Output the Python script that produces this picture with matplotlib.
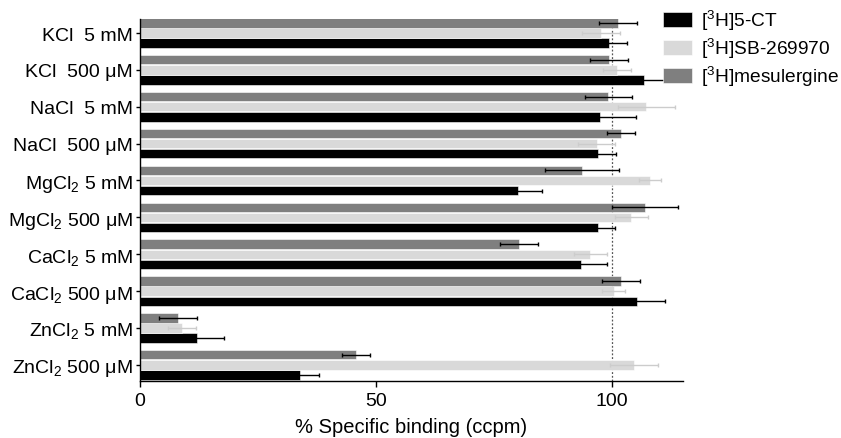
import matplotlib
matplotlib.use("Agg")
import matplotlib.pyplot as plt
import numpy as np

plt.rcParams['font.family'] = ['Liberation Sans', 'DejaVu Sans']
plt.rcParams['mathtext.fontset'] = 'custom'
plt.rcParams['mathtext.rm'] = 'Liberation Sans'
plt.rcParams['mathtext.it'] = 'Liberation Sans:italic'

categories = ["KCl  5 mM", "KCl  500 \u03bcM", "NaCl  5 mM", "NaCl  500 \u03bcM",
              "MgCl$_2$ 5 mM", "MgCl$_2$ 500 \u03bcM", "CaCl$_2$ 5 mM", "CaCl$_2$ 500 \u03bcM",
              "ZnCl$_2$ 5 mM", "ZnCl$_2$ 500 \u03bcM"]
series_names = ["[$^3$H]5-CT", "[$^3$H]SB-269970", "[$^3$H]mesulergine"]

ct_vals = [99.4, 106.8, 97.4, 97.1, 80.1, 97.0, 93.5, 105.3, 12.0, 33.9]
ct_err = [3.7, 7.8, 7.6, 3.7, 5.0, 3.7, 5.3, 5.8, 5.7, 4.0]
sb_vals = [97.7, 101.0, 107.2, 96.7, 108.0, 104.0, 95.4, 100.3, 8.9, 104.6]
sb_err = [4.0, 3.0, 6.0, 4.0, 2.3, 3.5, 3.4, 2.5, 3.0, 5.0]
mes_vals = [101.2, 99.4, 99.2, 101.9, 93.6, 107.0, 80.3, 101.8, 8.1, 45.7]
mes_err = [4.0, 4.0, 5.0, 3.0, 7.8, 7.0, 4.0, 4.0, 4.0, 3.0]

x_ticks = [0, 50, 100]

fig = plt.figure(figsize=(8.41, 4.39), dpi=100)
ax = fig.add_axes([140/841, 1-381.7/439, (683-140)/841, (381.7-20)/439])

y = np.arange(len(categories))
h = 0.255
off = 0.275
colors = ['#000000', '#d9d9d9', '#7f7f7f']
ecolors = ['#000000', '#cccccc', '#000000']
vals = [ct_vals, sb_vals, mes_vals]
errs = [ct_err, sb_err, mes_err]
offsets = [off, 0, -off]
for v, e, c, ec, o, name in zip(vals, errs, colors, ecolors, offsets, series_names):
    ax.barh(y + o, v, height=h, color=c, edgecolor='white', linewidth=0.4,
            xerr=e, label=name,
            error_kw=dict(ecolor=ec, elinewidth=1.0, capsize=1.5, capthick=1.0))

ax.axvline(100, color='#555555', linestyle=(0, (1.5, 1.5)), linewidth=0.9, zorder=0.5)

ax.set_ylim(9.43, -0.38)
ax.set_xlim(0, 115)
ax.set_yticks(y)
ax.set_yticklabels(categories, fontsize=14)
ax.set_xticks(x_ticks)
ax.set_xticklabels([str(t) for t in x_ticks], fontsize=14)
ax.set_xlabel("% Specific binding (ccpm)", fontsize=14.5, labelpad=6)
for s in ['top', 'right']:
    ax.spines[s].set_visible(False)
ax.spines['left'].set_linewidth(1.0)
ax.spines['bottom'].set_linewidth(1.0)
ax.tick_params(axis='y', length=3, width=1, pad=2)
ax.tick_params(axis='x', length=4, width=1, pad=4)

handles, labels = ax.get_legend_handles_labels()
fig.legend(handles, labels, loc='upper left', bbox_to_anchor=(663/841, 1-9/439),
           frameon=False, fontsize=13.8, borderpad=0, borderaxespad=0,
           handlelength=1.5, handleheight=0.8, handletextpad=0.5, labelspacing=0.2)

fig.savefig("out.png", dpi=100)
